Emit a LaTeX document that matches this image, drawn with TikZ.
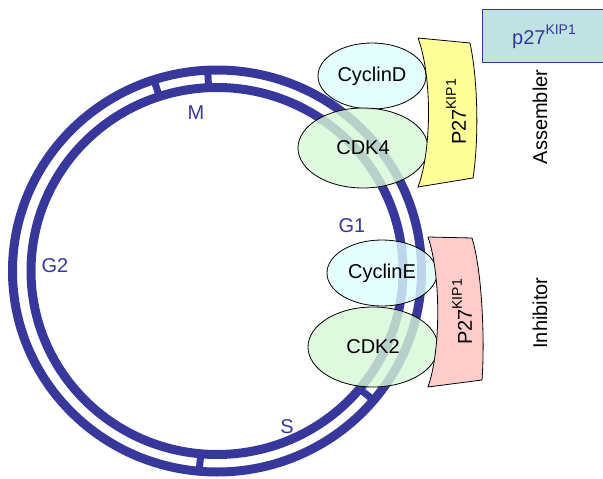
\documentclass[tikz,border=0pt]{standalone}
\usepackage{fontspec}
\setmainfont{Liberation Sans}
\usetikzlibrary{shapes.geometric,calc}
\definecolor{ringblue}{RGB}{56,56,156}
\definecolor{cyanfill}{RGB}{222,255,255}
\definecolor{greenfill}{RGB}{214,247,214}
\definecolor{yellowfill}{RGB}{255,255,153}
\definecolor{pinkfill}{RGB}{255,204,204}
\definecolor{boxfill}{RGB}{191,227,227}
\newcommand\supkip{\raisebox{0.5em}{\fontsize{14}{14}\selectfont KIP1}}
\begin{document}
\begin{tikzpicture}[x=1pt,y=-1pt,
  every node/.style={font=\fontsize{20}{24}\selectfont, inner sep=0pt},
  ring/.style={draw=ringblue, line width=9pt},
  tick/.style={draw=ringblue, line width=7pt},
  phase/.style={text=ringblue},
  prot/.style={ellipse, draw=black, line width=0.8pt, fill opacity=0.8, text opacity=1},
  band/.style={draw=black, line width=0.8pt},
  side/.style={rotate=90, text=black}]
\useasboundingbox (0,0) rectangle (603,479);
\coordinate (c) at (217,271);
% rings
\draw[ring] (c) ellipse (204.5 and 201);
\draw[ring] (c) ellipse (186 and 183.5);
% ticks (angles measured on the page, counter-clockwise)
\foreach \a in {92.6,108,265,320}
  \draw[tick] ($(c)+(-\a:186 and 183.5)$) -- ($(c)+(-\a:204.5 and 201)$);
% phase labels
\node[phase] (M) at (196,113) {M};
\node[phase] (G2) at (55,266) {G2};
\node[phase] (S) at (287,427) {S};
\node[phase] (G1) at (352,226) {G1};
% proteins
\node[prot, fill=cyanfill, minimum width=108, minimum height=66] (cycD) at (372,76) {CyclinD};
\node[prot, fill=greenfill, minimum width=130, minimum height=80] (cdk4) at (363,148) {CDK4};
\node[prot, fill=cyanfill, minimum width=110, minimum height=66] (cycE) at (382,273) {CyclinE};
\node[prot, fill=greenfill, minimum width=130, minimum height=80] (cdk2) at (373,347) {CDK2};
% p27 bands
\draw[band, fill=yellowfill] (418,38) -- (470,43) .. controls (478,80) and (479,140) .. (473,178)
  -- (418,187) .. controls (432,150) and (432,75) .. (418,38);
\node[side] (p27a) at (456,112) {P27\supkip};
\draw[band, fill=pinkfill] (428,237) -- (472,238) .. controls (482,270) and (485,340) .. (482,380)
  -- (428,387) .. controls (441,350) and (441,275) .. (428,237);
\node[side] (p27b) at (462,312) {P27\supkip};
% side labels
\node[side] (asm) at (540,117) {Assembler};
\node[side] (inh) at (540,313) {Inhibitor};
% box
\draw[draw=ringblue, line width=0.8pt, fill=boxfill] (482,9) rectangle (620,62);
\node[text=ringblue] (p27box) at (544,37) {p27\supkip};
\end{tikzpicture}
\end{document}
